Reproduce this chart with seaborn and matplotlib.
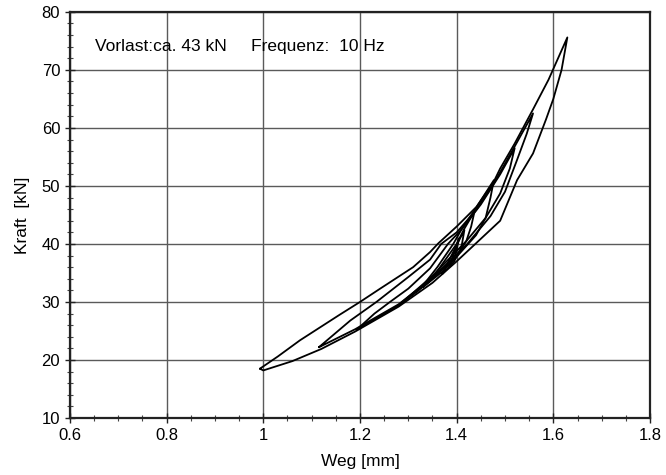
import matplotlib
matplotlib.use("Agg")
import matplotlib.pyplot as plt
from matplotlib.ticker import MultipleLocator
import seaborn as sns
import pandas as pd

# ---- data (Weg [mm], Kraft [kN]) ----
# each loop: lower branch (bottom tip -> top tip), then upper branch back to bottom tip
loop1_x = [0.993, 1.00, 1.06, 1.12, 1.19, 1.28, 1.35, 1.40, 1.445, 1.49, 1.525, 1.558, 1.585, 1.60, 1.617, 1.629,
           1.59, 1.558, 1.52, 1.49, 1.476, 1.441, 1.40, 1.362, 1.345, 1.31, 1.24, 1.20, 1.158, 1.076, 1.03, 0.993]
loop1_y = [18.5, 18.2, 19.8, 21.9, 24.9, 29.2, 33.3, 37.0, 40.5, 44.0, 51.0, 55.6, 61.5, 65.0, 70.0, 75.6,
           68.3, 63.2, 57.3, 53.0, 50.6, 46.4, 43.0, 40.1, 38.6, 36.0, 32.2, 30.0, 27.8, 23.4, 20.6, 18.5]

loop2_x = [1.115, 1.19, 1.28, 1.35, 1.42, 1.47, 1.50, 1.525, 1.545, 1.558,
           1.52, 1.476, 1.44, 1.40, 1.368, 1.345, 1.30, 1.234, 1.18, 1.115]
loop2_y = [22.2, 25.3, 29.6, 34.2, 39.8, 44.8, 49.0, 54.5, 59.0, 62.5,
           56.8, 50.3, 45.8, 42.0, 40.0, 37.3, 34.3, 30.0, 26.8, 22.2]

loop3_x = [1.193, 1.28, 1.35, 1.42, 1.46, 1.49, 1.51, 1.520,
           1.49, 1.45, 1.41, 1.382, 1.345, 1.30, 1.262, 1.23, 1.193]
loop3_y = [25.2, 29.4, 34.5, 40.5, 44.5, 48.7, 53.0, 56.5,
           52.0, 46.8, 42.5, 40.0, 35.8, 32.3, 30.0, 28.0, 25.2]

loop4_x = [1.279, 1.32, 1.36, 1.40, 1.44, 1.46, 1.47, 1.477,
           1.44, 1.41, 1.393, 1.36, 1.33, 1.30, 1.279]
loop4_y = [29.4, 31.9, 34.8, 37.8, 41.5, 44.5, 48.0, 51.0,
           46.2, 42.5, 40.0, 36.0, 32.8, 30.8, 29.4]

loop5_x = [1.331, 1.37, 1.40, 1.42, 1.43, 1.437, 1.415, 1.40, 1.37, 1.35, 1.331]
loop5_y = [32.6, 35.2, 37.8, 40.5, 43.0, 45.6, 42.5, 40.0, 36.5, 34.2, 32.6]

loop6_x = [1.37, 1.395, 1.41, 1.416, 1.40, 1.385, 1.37]
loop6_y = [34.8, 37.0, 39.5, 42.4, 39.8, 37.3, 34.8]

loop7_x = [1.385, 1.398, 1.405, 1.396, 1.385]
loop7_y = [36.2, 38.2, 41.0, 38.8, 36.2]

annotation = "Vorlast:ca. 43 kN     Frequenz:  10 Hz"
x_ticks = [0.6, 0.8, 1.0, 1.2, 1.4, 1.6, 1.8]
x_tick_labels = ["0.6", "0.8", "1", "1.2", "1.4", "1.6", "1.8"]
y_ticks = [10, 20, 30, 40, 50, 60, 70, 80]

loops = [(loop1_x, loop1_y), (loop2_x, loop2_y), (loop3_x, loop3_y), (loop4_x, loop4_y),
         (loop5_x, loop5_y), (loop6_x, loop6_y), (loop7_x, loop7_y)]
rows = []
for i, (lx, ly) in enumerate(loops):
    for j, (a, b) in enumerate(zip(lx, ly)):
        rows.append({"Weg": a, "Kraft": b, "loop": i, "order": j})
df = pd.DataFrame(rows)

sns.set_theme(style="white")
plt.rcParams["font.family"] = ["Liberation Sans", "DejaVu Sans"]

fig = plt.figure(figsize=(6.66, 4.75), dpi=100)
ax = fig.add_axes([0.105, 0.12, 0.871, 0.855])

sns.lineplot(data=df, x="Weg", y="Kraft", units="loop", estimator=None, sort=False,
             color="black", linewidth=1.3, ax=ax)

ax.set_xlim(0.6, 1.8)
ax.set_ylim(10, 80)
ax.set_xticks(x_ticks)
ax.set_xticklabels(x_tick_labels)
ax.set_yticks(y_ticks)
ax.xaxis.set_minor_locator(MultipleLocator(0.05))
ax.yaxis.set_minor_locator(MultipleLocator(2))
ax.grid(True, which="major", color="#5a5a5a", linewidth=1.0)
ax.set_axisbelow(True)
for s in ax.spines.values():
    s.set_color("#222222")
    s.set_linewidth(1.6)
ax.tick_params(which="major", direction="inout", length=7, width=1.0, colors="#222222",
               labelsize=12, labelcolor="black", bottom=True, left=True)
ax.tick_params(which="minor", direction="inout", length=5, width=0.8, colors="#444444",
               bottom=True, left=True)

ax.set_xlabel("Weg [mm]", fontsize=12.5, color="black", labelpad=8)
ax.set_ylabel("Kraft  [kN]", fontsize=12.5, color="black", labelpad=8)

ax.text(0.043, 0.915, annotation, transform=ax.transAxes, fontsize=12.5,
        color="black", ha="left", va="center")

fig.savefig("out.png", dpi=100, facecolor="white")
